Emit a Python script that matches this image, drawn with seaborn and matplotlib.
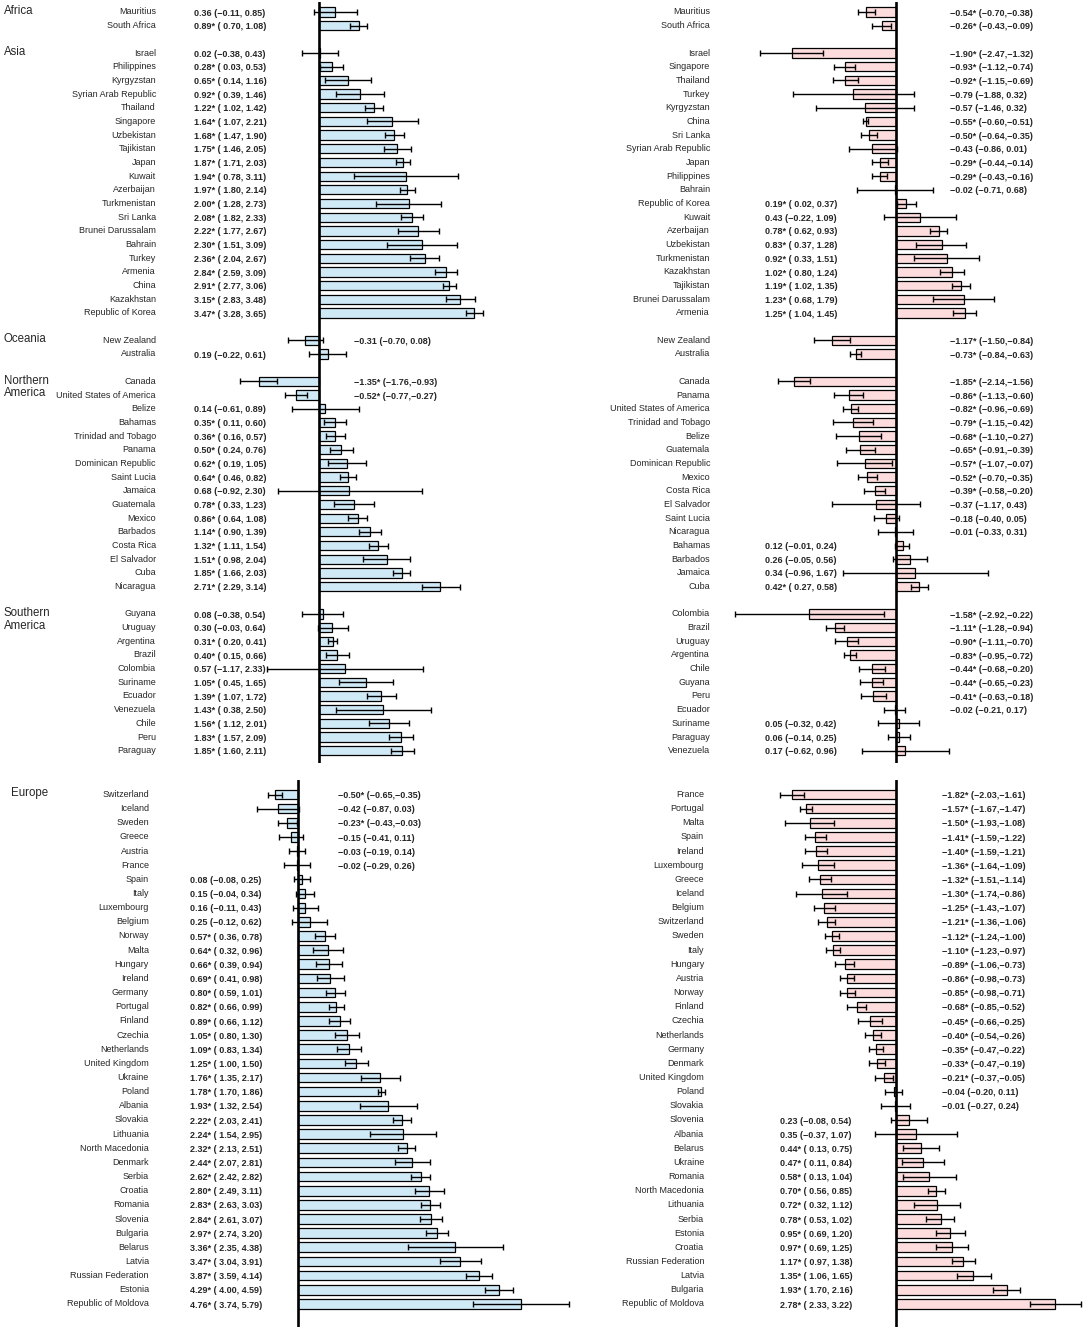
import numpy as np
import pandas as pd
import matplotlib
matplotlib.use("Agg")
import matplotlib.pyplot as plt
import seaborn as sns

# ---------------- DATA ----------------
top_regions = ["Africa", "Asia", "Oceania", "Northern\nAmerica", "Southern\nAmerica"]
top_region_sizes = [2, 20, 2, 16, 11]

tl_countries = ["Mauritius", "South Africa",
    "Israel", "Philippines", "Kyrgyzstan", "Syrian Arab Republic", "Thailand", "Singapore",
    "Uzbekistan", "Tajikistan", "Japan", "Kuwait", "Azerbaijan", "Turkmenistan", "Sri Lanka",
    "Brunei Darussalam", "Bahrain", "Turkey", "Armenia", "China", "Kazakhstan", "Republic of Korea",
    "New Zealand", "Australia",
    "Canada", "United States of America", "Belize", "Bahamas", "Trinidad and Tobago", "Panama",
    "Dominican Republic", "Saint Lucia", "Jamaica", "Guatemala", "Mexico", "Barbados", "Costa Rica",
    "El Salvador", "Cuba", "Nicaragua",
    "Guyana", "Uruguay", "Argentina", "Brazil", "Colombia", "Suriname", "Ecuador", "Venezuela",
    "Chile", "Peru", "Paraguay"]
tl_values = [0.36, 0.89,
    0.02, 0.28, 0.65, 0.92, 1.22, 1.64, 1.68, 1.75, 1.87, 1.94, 1.97, 2.00, 2.08, 2.22, 2.30, 2.36,
    2.84, 2.91, 3.15, 3.47,
    -0.31, 0.19,
    -1.35, -0.52, 0.14, 0.35, 0.36, 0.50, 0.62, 0.64, 0.68, 0.78, 0.86, 1.14, 1.32, 1.51, 1.85, 2.71,
    0.08, 0.30, 0.31, 0.40, 0.57, 1.05, 1.39, 1.43, 1.56, 1.83, 1.85]
tl_lo = [-0.11, 0.70,
    -0.38, 0.03, 0.14, 0.39, 1.02, 1.07, 1.47, 1.46, 1.71, 0.78, 1.80, 1.28, 1.82, 1.77, 1.51, 2.04,
    2.59, 2.77, 2.83, 3.28,
    -0.70, -0.22,
    -1.76, -0.77, -0.61, 0.11, 0.16, 0.24, 0.19, 0.46, -0.92, 0.33, 0.64, 0.90, 1.11, 0.98, 1.66, 2.29,
    -0.38, -0.03, 0.20, 0.15, -1.17, 0.45, 1.07, 0.38, 1.12, 1.57, 1.60]
tl_hi = [0.85, 1.08,
    0.43, 0.53, 1.16, 1.46, 1.42, 2.21, 1.90, 2.05, 2.03, 3.11, 2.14, 2.73, 2.33, 2.67, 3.09, 2.67,
    3.09, 3.06, 3.48, 3.65,
    0.08, 0.61,
    -0.93, -0.27, 0.89, 0.60, 0.57, 0.76, 1.05, 0.82, 2.30, 1.23, 1.08, 1.39, 1.54, 2.04, 2.03, 3.14,
    0.54, 0.64, 0.41, 0.66, 2.33, 1.65, 1.72, 2.50, 2.01, 2.09, 2.11]

tr_countries = ["Mauritius", "South Africa",
    "Israel", "Singapore", "Thailand", "Turkey", "Kyrgyzstan", "China", "Sri Lanka",
    "Syrian Arab Republic", "Japan", "Philippines", "Bahrain", "Republic of Korea", "Kuwait",
    "Azerbaijan", "Uzbekistan", "Turkmenistan", "Kazakhstan", "Tajikistan", "Brunei Darussalam", "Armenia",
    "New Zealand", "Australia",
    "Canada", "Panama", "United States of America", "Trinidad and Tobago", "Belize", "Guatemala",
    "Dominican Republic", "Mexico", "Costa Rica", "El Salvador", "Saint Lucia", "Nicaragua",
    "Bahamas", "Barbados", "Jamaica", "Cuba",
    "Colombia", "Brazil", "Uruguay", "Argentina", "Chile", "Guyana", "Peru", "Ecuador",
    "Suriname", "Paraguay", "Venezuela"]
tr_values = [-0.54, -0.26,
    -1.90, -0.93, -0.92, -0.79, -0.57, -0.55, -0.50, -0.43, -0.29, -0.29, -0.02, 0.19, 0.43,
    0.78, 0.83, 0.92, 1.02, 1.19, 1.23, 1.25,
    -1.17, -0.73,
    -1.85, -0.86, -0.82, -0.79, -0.68, -0.65, -0.57, -0.52, -0.39, -0.37, -0.18, -0.01,
    0.12, 0.26, 0.34, 0.42,
    -1.58, -1.11, -0.90, -0.83, -0.44, -0.44, -0.41, -0.02, 0.05, 0.06, 0.17]
tr_lo = [-0.70, -0.43,
    -2.47, -1.12, -1.15, -1.88, -1.46, -0.60, -0.64, -0.86, -0.44, -0.43, -0.71, 0.02, -0.22,
    0.62, 0.37, 0.33, 0.80, 1.02, 0.68, 1.04,
    -1.50, -0.84,
    -2.14, -1.13, -0.96, -1.15, -1.10, -0.91, -1.07, -0.70, -0.58, -1.17, -0.40, -0.33,
    -0.01, -0.05, -0.96, 0.27,
    -2.92, -1.28, -1.11, -0.95, -0.68, -0.65, -0.63, -0.21, -0.32, -0.14, -0.62]
tr_hi = [-0.38, -0.09,
    -1.32, -0.74, -0.69, 0.32, 0.32, -0.51, -0.35, 0.01, -0.14, -0.16, 0.68, 0.37, 1.09,
    0.93, 1.28, 1.51, 1.24, 1.35, 1.79, 1.45,
    -0.84, -0.63,
    -1.56, -0.60, -0.69, -0.42, -0.27, -0.39, -0.07, -0.35, -0.20, 0.43, 0.05, 0.31,
    0.24, 0.56, 1.67, 0.58,
    -0.22, -0.94, -0.70, -0.72, -0.20, -0.23, -0.18, 0.17, 0.42, 0.25, 0.96]

bottom_regions = ["Europe"]
bottom_region_sizes = [37]

bl_countries = ["Switzerland", "Iceland", "Sweden", "Greece", "Austria", "France", "Spain", "Italy",
    "Luxembourg", "Belgium", "Norway", "Malta", "Hungary", "Ireland", "Germany", "Portugal", "Finland",
    "Czechia", "Netherlands", "United Kingdom", "Ukraine", "Poland", "Albania", "Slovakia", "Lithuania",
    "North Macedonia", "Denmark", "Serbia", "Croatia", "Romania", "Slovenia", "Bulgaria", "Belarus",
    "Latvia", "Russian Federation", "Estonia", "Republic of Moldova"]
bl_values = [-0.50, -0.42, -0.23, -0.15, -0.03, -0.02, 0.08, 0.15, 0.16, 0.25, 0.57, 0.64, 0.66, 0.69,
    0.80, 0.82, 0.89, 1.05, 1.09, 1.25, 1.76, 1.78, 1.93, 2.22, 2.24, 2.32, 2.44, 2.62, 2.80, 2.83,
    2.84, 2.97, 3.36, 3.47, 3.87, 4.29, 4.76]
bl_lo = [-0.65, -0.87, -0.43, -0.41, -0.19, -0.29, -0.08, -0.04, -0.11, -0.12, 0.36, 0.32, 0.39, 0.41,
    0.59, 0.66, 0.66, 0.80, 0.83, 1.00, 1.35, 1.70, 1.32, 2.03, 1.54, 2.13, 2.07, 2.42, 2.49, 2.63,
    2.61, 2.74, 2.35, 3.04, 3.59, 4.00, 3.74]
bl_hi = [-0.35, 0.03, -0.03, 0.11, 0.14, 0.26, 0.25, 0.34, 0.43, 0.62, 0.78, 0.96, 0.94, 0.98,
    1.01, 0.99, 1.12, 1.30, 1.34, 1.50, 2.17, 1.86, 2.54, 2.41, 2.95, 2.51, 2.81, 2.82, 3.11, 3.03,
    3.07, 3.20, 4.38, 3.91, 4.14, 4.59, 5.79]

br_countries = ["France", "Portugal", "Malta", "Spain", "Ireland", "Luxembourg", "Greece", "Iceland",
    "Belgium", "Switzerland", "Sweden", "Italy", "Hungary", "Austria", "Norway", "Finland", "Czechia",
    "Netherlands", "Germany", "Denmark", "United Kingdom", "Poland", "Slovakia", "Slovenia", "Albania",
    "Belarus", "Ukraine", "Romania", "North Macedonia", "Lithuania", "Serbia", "Estonia", "Croatia",
    "Russian Federation", "Latvia", "Bulgaria", "Republic of Moldova"]
br_values = [-1.82, -1.57, -1.50, -1.41, -1.40, -1.36, -1.32, -1.30, -1.25, -1.21, -1.12, -1.10,
    -0.89, -0.86, -0.85, -0.68, -0.45, -0.40, -0.35, -0.33, -0.21, -0.04, -0.01, 0.23, 0.35, 0.44,
    0.47, 0.58, 0.70, 0.72, 0.78, 0.95, 0.97, 1.17, 1.35, 1.93, 2.78]
br_lo = [-2.03, -1.67, -1.93, -1.59, -1.59, -1.64, -1.51, -1.74, -1.43, -1.36, -1.24, -1.23,
    -1.06, -0.98, -0.98, -0.85, -0.66, -0.54, -0.47, -0.47, -0.37, -0.20, -0.27, -0.08, -0.37, 0.13,
    0.11, 0.13, 0.56, 0.32, 0.53, 0.69, 0.69, 0.97, 1.06, 1.70, 2.33]
br_hi = [-1.61, -1.47, -1.08, -1.22, -1.21, -1.09, -1.14, -0.86, -1.07, -1.06, -1.00, -0.97,
    -0.73, -0.73, -0.71, -0.52, -0.25, -0.26, -0.22, -0.19, -0.05, 0.11, 0.24, 0.54, 1.07, 0.75,
    0.84, 1.04, 0.85, 1.12, 1.02, 1.20, 1.25, 1.38, 1.65, 2.16, 3.22]

# ---------------- STYLE ----------------
sns.set_style("white")
plt.rcParams["font.family"] = ["Liberation Sans", "DejaVu Sans"]

W, H, DPI = 1084, 1332, 100
BLUE = "#cfe9f6"
PINK = "#fcdcdc"
MINUS = "\u2212"

fig = plt.figure(figsize=(W / DPI, H / DPI), dpi=DPI)


def fmt_num(v, pad):
    s = f"{abs(v):.2f}"
    if v < 0:
        return MINUS + s
    return (" " + s) if pad else s


def fmt_label(v, lo, hi):
    star = "*" if (lo > 0 or hi < 0) else ""
    return f"{fmt_num(v, False)}{star} ({fmt_num(lo, True)},{fmt_num(hi, True)})"


def row_positions(sizes):
    rows, start = [], 0
    starts = []
    for n in sizes:
        starts.append(start)
        rows.extend(range(start, start + n))
        start += n + 1
    return rows, starts


def panel(countries, values, lo, hi, sizes, color, zero_px, scale, y_px, row0_px, step,
          name_px, pos_px, neg_px, regions=None, region_px=4):
    top_px, bot_px = y_px
    ax = fig.add_axes([0, 1 - bot_px / H, 1, (bot_px - top_px) / H])
    ax.set_facecolor("none")
    rows, starts = row_positions(sizes)
    df = pd.DataFrame({"country": countries, "value": values, "lo": lo, "hi": hi, "row": rows})
    sns.barplot(data=df, x="value", y="row", orient="h", native_scale=True, color=color,
                saturation=1, edgecolor="black", linewidth=0.9, errorbar=None, width=0.68, ax=ax)
    ax.errorbar(df["value"], df["row"], xerr=[df["value"] - df["lo"], df["hi"] - df["value"]],
                fmt="none", ecolor="black", elinewidth=1.0, capsize=2.2, capthick=1.0, zorder=5)
    ax.axvline(0, color="black", lw=1.9, zorder=6)
    ax.set_xlim(-zero_px / scale, (W - zero_px) / scale)
    ax.set_ylim((bot_px - row0_px) / step, (top_px - row0_px) / step)
    ax.axis("off")

    def px2x(px):
        return (px - zero_px) / scale

    for _, r in df.iterrows():
        ax.text(px2x(name_px), r["row"], r["country"], ha="right", va="center", fontsize=6.5,
                clip_on=False)
        lbl = fmt_label(r["value"], r["lo"], r["hi"])
        xpx = pos_px if r["value"] >= 0 else neg_px
        ax.text(px2x(xpx), r["row"] + 0.08, lbl, ha="left", va="center", fontsize=6.5,
                fontweight="bold", clip_on=False)
    if regions:
        for reg, st in zip(regions, starts):
            ax.text(px2x(region_px), st - 0.5, reg, ha="left", va="top", fontsize=8.3,
                    linespacing=1.05, clip_on=False)
    return ax


# top-left
panel(tl_countries, tl_values, tl_lo, tl_hi, top_region_sizes, BLUE,
      zero_px=319, scale=44.8, y_px=(2, 763), row0_px=12, step=13.68,
      name_px=156, pos_px=194, neg_px=354, regions=top_regions, region_px=4)
# top-right
panel(tr_countries, tr_values, tr_lo, tr_hi, top_region_sizes, PINK,
      zero_px=896, scale=55.0, y_px=(2, 763), row0_px=12, step=13.68,
      name_px=710, pos_px=765, neg_px=950)
# bottom-left (Europe)
panel(bl_countries, bl_values, bl_lo, bl_hi, bottom_region_sizes, BLUE,
      zero_px=298, scale=46.8, y_px=(780, 1327), row0_px=794.5, step=14.15,
      name_px=149, pos_px=190, neg_px=338, regions=bottom_regions, region_px=11)
# bottom-right (Europe)
panel(br_countries, br_values, br_lo, br_hi, bottom_region_sizes, PINK,
      zero_px=896, scale=57.3, y_px=(780, 1327), row0_px=794.5, step=14.15,
      name_px=704, pos_px=780, neg_px=942)

fig.savefig("out.png", dpi=DPI)
